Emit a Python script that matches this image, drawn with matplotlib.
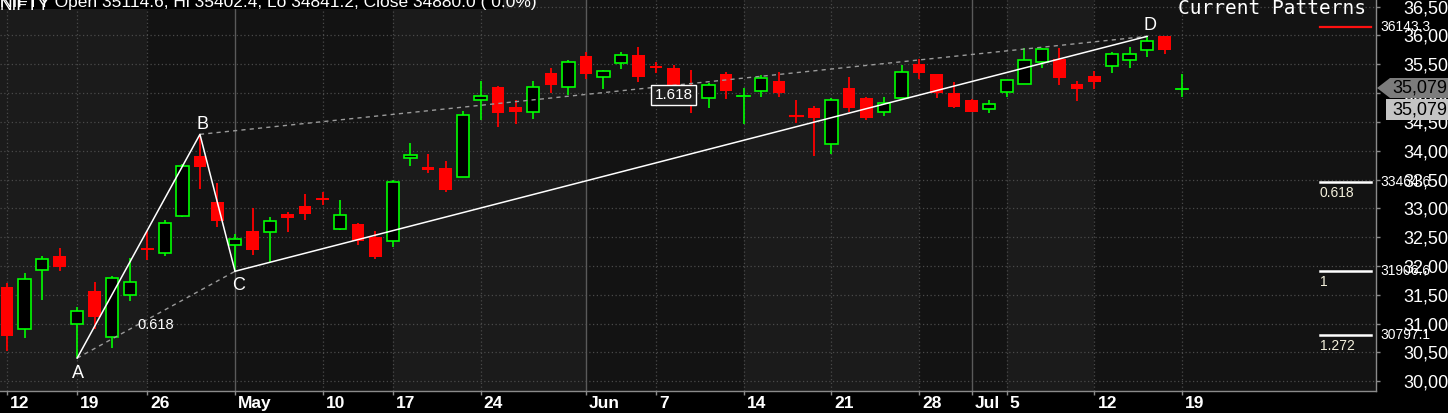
import matplotlib
matplotlib.use("Agg")
import matplotlib.pyplot as plt
import matplotlib.transforms as mtransforms
from matplotlib.patches import Rectangle, Polygon

# ---------------- data ----------------
dates = ["2021-04-12", "2021-04-13", "2021-04-15", "2021-04-16",
         "2021-04-19", "2021-04-20", "2021-04-22", "2021-04-23",
         "2021-04-26", "2021-04-27", "2021-04-28", "2021-04-29", "2021-04-30",
         "2021-05-03", "2021-05-04", "2021-05-05", "2021-05-06", "2021-05-07",
         "2021-05-10", "2021-05-11", "2021-05-12", "2021-05-14",
         "2021-05-17", "2021-05-18", "2021-05-19", "2021-05-20", "2021-05-21",
         "2021-05-24", "2021-05-25", "2021-05-26", "2021-05-27", "2021-05-28", "2021-05-31",
         "2021-06-01", "2021-06-02", "2021-06-03", "2021-06-04",
         "2021-06-07", "2021-06-08", "2021-06-09", "2021-06-10", "2021-06-11",
         "2021-06-14", "2021-06-15", "2021-06-16", "2021-06-17", "2021-06-18",
         "2021-06-21", "2021-06-22", "2021-06-23", "2021-06-24", "2021-06-25",
         "2021-06-28", "2021-06-29", "2021-06-30", "2021-07-01", "2021-07-02",
         "2021-07-05", "2021-07-06", "2021-07-07", "2021-07-08", "2021-07-09",
         "2021-07-12", "2021-07-13", "2021-07-14", "2021-07-15", "2021-07-16",
         "2021-07-19"]

opens = [31632, 30902, 31921, 32176, 30989, 31568, 30758, 31493,
         32315, 32222, 32859, 33913, 33114,
         32361, 32610, 32587, 32906, 33045,
         33184, 32636, 32729, 32497,
         32428, 33881, 33719, 33701, 33551,
         34877, 35103, 34755, 34668, 35352, 35103,
         35647, 35276, 35531, 35664,
         35473, 35440, 35123, 34910, 35332,
         34940, 35042, 35210, 34630, 34736,
         34111, 35083, 34910, 34677, 34920,
         35505, 35332, 34996, 34880, 34730,
         35014, 35166, 35546, 35597, 35166,
         35293, 35477, 35580, 35753, 35983,
         35070]
highs = [31700, 31875, 32176, 32315, 31285, 31725, 31829, 32141,
         32599, 32801, 33774, 34284, 33438,
         32547, 33004, 32848, 32940, 33253,
         33288, 33145, 32740, 32601,
         33493, 34130, 33944, 33823, 34686,
         35213, 35126, 34883, 35213, 35438, 35577,
         35716, 35404, 35716, 35809,
         35548, 35480, 35401, 35170, 35372,
         35096, 35314, 35361, 34880, 34776,
         34910, 35285, 34930, 34937, 35488,
         35587, 35340, 35198, 34890, 34880,
         35227, 35787, 35780, 35787, 35206,
         35379, 35712, 35799, 35985.1, 35990,
         35327]
lows = [30530, 30740, 31412, 31916, 30399, 30902, 30567, 31389,
        32095, 32164, 32850, 33334, 32668,
        31906.6, 32194, 32072, 32581, 32790,
        33056, 32630, 32364, 32126,
        32335, 33742, 33620, 33290, 33545,
        34535, 34419, 34466, 34547, 34998, 34969,
        35247, 35079, 35427, 35201,
        35346, 34990, 34660, 34746, 34897,
        34471, 34937, 34937, 34476, 33910,
        33943, 34677, 34533, 34608, 34915,
        35240, 34920, 34747, 34670, 34649,
        34937, 35160, 35437, 35149, 34867,
        35063, 35350, 35437, 35626, 35684,
        34925]
closes = [30775, 31771, 32118, 31974, 31215, 31105, 31788, 31719,
          32269, 32744, 33739, 33710, 32772,
          32466, 32269, 32778, 32825, 32894,
          33137, 32879, 32439, 32161,
          33452, 33921, 33672, 33325, 34616,
          34946, 34663, 34680, 35103, 35149, 35537,
          35340, 35380, 35658, 35282,
          35444, 35060, 34793, 35141, 35042,
          34955, 35257, 35007, 34610, 34563,
          34880, 34747, 34573, 34823, 35361,
          35354, 35007, 34764, 34677, 34806,
          35227, 35580, 35770, 35270, 35063,
          35195, 35672, 35672, 35908, 35753,
          35079]

tick_dates = ["2021-04-12", "2021-04-19", "2021-04-26", "2021-05-03", "2021-05-10",
              "2021-05-17", "2021-05-24", "2021-06-01", "2021-06-07", "2021-06-14",
              "2021-06-21", "2021-06-28", "2021-07-01", "2021-07-05", "2021-07-12",
              "2021-07-19"]
tick_labels = ["12", "19", "26", "May", "10", "17", "24", "Jun", "7", "14",
               "21", "28", "Jul", "5", "12", "19"]
month_starts = ["2021-05-03", "2021-06-01", "2021-07-01"]
# lighter background bands (start date, end date)
light_bands = [("2021-04-12", "2021-04-26"), ("2021-05-17", "2021-06-01"),
               ("2021-06-14", "2021-06-28"), ("2021-07-05", "2021-07-12")]

pattern_names = ["A", "B", "C", "D"]
pattern_dates = ["2021-04-19", "2021-04-29", "2021-05-03", "2021-07-15"]
pattern_prices = [30399.0, 34284.0, 31906.6, 35985.1]
ratio_ac = "0.618"
ratio_bd = "1.618"

level_ratios = ["0.618", "1", "1.272"]
level_prices = [33464.6, 31906.6, 30797.1]
target_price = 36143.3
last_price = 35079
y_ticks = list(range(30000, 36501, 500))

header = "NIFTY Open 35114.6, Hi 35402.4, Lo 34841.2, Close 34880.0 ( 0.0%)"

# ---------------- layout helpers ----------------
W, H = 1448, 413
fig = plt.figure(figsize=(W / 100, H / 100), dpi=100)
fig.patch.set_facecolor("black")


def fx(p):
    return p / W


def fy(p):
    return 1 - p / H


def idx(d):
    return dates.index(d)


AX_R, AX_B = 1375.7, 390.7
ax = fig.add_axes([0, fy(AX_B), fx(AX_R), AX_B / H])
ax.set_facecolor("#131313")
STEP = 17.54
ax.set_xlim(-7 / STEP, (AX_R - 7) / STEP)
ax.set_ylim(29833.4, 36616.3)

# background bands
tick_idx = [idx(d) for d in tick_dates]
x_lo = ax.get_xlim()[0]
for a, b in light_bands:
    ia = idx(a) if a != dates[0] else x_lo
    ax.axvspan(ia, idx(b), color="#1b1b1b", lw=0, zorder=0)

# grid
for v in y_ticks:
    ax.axhline(v, color="#4a4a4a", lw=0.9, ls=(0, (1, 2)), zorder=1)
for d in tick_dates:
    if d in month_starts:
        ax.axvline(idx(d), color="#5a5a5a", lw=1.0, zorder=1)
    else:
        ax.axvline(idx(d), color="#4a4a4a", lw=0.9, ls=(0, (1, 2)), zorder=1)

# candles
BW = 0.71
GREEN, RED = "#00ff00", "#ff0000"
for i in range(len(dates)):
    o, h, l, c = opens[i], highs[i], lows[i], closes[i]
    top, bot = max(o, c), min(o, c)
    if c >= o:
        ax.plot([i, i], [top, h], color=GREEN, lw=1.2, zorder=3, solid_capstyle="butt")
        ax.plot([i, i], [l, bot], color=GREEN, lw=1.2, zorder=3, solid_capstyle="butt")
        if top - bot < 25:
            ax.plot([i - BW / 2, i + BW / 2], [c, c], color=GREEN, lw=1.3, zorder=4)
        else:
            ax.add_patch(Rectangle((i - BW / 2, bot), BW, top - bot, facecolor="black",
                                   edgecolor=GREEN, lw=1.2, zorder=4))
    else:
        ax.plot([i, i], [l, h], color=RED, lw=1.3, zorder=3, solid_capstyle="butt")
        if top - bot < 25:
            ax.plot([i - BW / 2, i + BW / 2], [c, c], color=RED, lw=1.5, zorder=4)
        else:
            ax.add_patch(Rectangle((i - BW / 2, bot), BW, top - bot, facecolor=RED,
                                   edgecolor="none", zorder=4))

# harmonic pattern
px_ = [idx(d) for d in pattern_dates]
py_ = pattern_prices
ax.plot(px_[:3], py_[:3], color="white", lw=1.1, zorder=6)
ax.plot(px_[2:], py_[2:], color="white", lw=1.1, zorder=6)
ax.plot([px_[0], px_[2]], [py_[0], py_[2]], color="#9a9a9a", lw=1.0, ls=(0, (3, 3)), zorder=5)
ax.plot([px_[1], px_[3]], [py_[1], py_[3]], color="#9a9a9a", lw=1.0, ls=(0, (3, 3)), zorder=5)

name_off = [(1, -15), (3, 10), (3.5, -14), (2.5, 11)]
for n, xx, yy, off in zip(pattern_names, px_, py_, name_off):
    ax.annotate(n, (xx, yy), xytext=off, textcoords="offset pixels", ha="center",
                va="center", color="white", fontsize=13, family="Liberation Sans", zorder=8)

ax.annotate(ratio_ac, ((px_[0] + px_[2]) / 2, (py_[0] + py_[2]) / 2), xytext=(0, -10),
            textcoords="offset pixels", ha="center", va="center", color="white",
            fontsize=10.5, family="Liberation Sans", zorder=8)
ax.annotate(ratio_bd, ((px_[1] + px_[3]) / 2, (py_[1] + py_[3]) / 2), xytext=(0, -10),
            textcoords="offset pixels", ha="center", va="center", color="white",
            fontsize=11, family="Liberation Sans", zorder=8,
            bbox=dict(boxstyle="square,pad=0.2", fc="#202020", ec="white", lw=1.0))

# projection levels on the right
lx0, lx1 = (1320 - 7) / STEP, (1370.7 - 7) / STEP
ax.plot([lx0, lx1], [target_price] * 2, color="#ff1010", lw=1.6, zorder=6)
for r, v in zip(level_ratios, level_prices):
    ax.plot([lx0, lx1], [v, v], color="white", lw=1.8, zorder=6)
    ax.annotate(r, (lx0, v), xytext=(0, -11), textcoords="offset pixels", ha="left",
                va="center", color="#f4f0dc", fontsize=10, family="Liberation Sans", zorder=8)

# axes styling
for s in ["left", "top"]:
    ax.spines[s].set_visible(False)
for s in ["right", "bottom"]:
    ax.spines[s].set_color("#8a8a8a")
    ax.spines[s].set_linewidth(1.0)

ax.yaxis.tick_right()
ax.set_yticks(y_ticks)
ax.set_yticklabels([f"{v:,}" for v in y_ticks])
ax.tick_params(axis="y", colors="#8a8a8a", labelcolor="white", length=3, width=1,
               pad=17, labelsize=13)
for t in ax.get_yticklabels():
    t.set_family("Liberation Sans")

ax.set_xticks(tick_idx)
ax.set_xticklabels(tick_labels)
ax.tick_params(axis="x", colors="#8a8a8a", labelcolor="white", length=3, width=1,
               pad=1, labelsize=12.5)
shift = mtransforms.ScaledTranslation(3 / 100, 0, fig.dpi_scale_trans)
for t in ax.get_xticklabels():
    t.set_family("Liberation Sans")
    t.set_fontweight("bold")
    t.set_ha("left")
    t.set_transform(t.get_transform() + shift)

# level values in the price axis
blend = mtransforms.blended_transform_factory(fig.transFigure, ax.transData)
for v in [target_price] + level_prices:
    fig.text(fx(1380.7), v, f"{v:.1f}", transform=blend, ha="left", va="center",
             color="white", fontsize=10, family="Liberation Sans", zorder=5)

# last price tags
tag = Polygon([(fx(1377), fy(88)), (fx(1390), fy(78)), (fx(W), fy(78)),
               (fx(W), fy(98)), (fx(1390), fy(98))], closed=True,
              transform=fig.transFigure, facecolor="#7c7c7c", edgecolor="none", zorder=6)
fig.patches.append(tag)
box = Rectangle((fx(1386), fy(120)), fx(W) - fx(1386), (120 - 99) / H,
                transform=fig.transFigure, facecolor="#c4c4c4", edgecolor="none", zorder=6)
fig.patches.append(box)
fig.text(fx(1392.5), fy(88), f"{last_price:,}", ha="left", va="center", color="black",
         fontsize=13, family="Liberation Sans", zorder=7)
fig.text(fx(1392.5), fy(110), f"{last_price:,}", ha="left", va="center", color="black",
         fontsize=13, family="Liberation Sans", zorder=7)

# titles
fig.text(fx(1178), fy(8), "Current Patterns", ha="left", va="center", color="white",
         fontsize=14, family="DejaVu Sans Mono", zorder=7)
hdr = Rectangle((0, fy(8.5)), fx(503), 8.5 / H, transform=fig.transFigure,
                facecolor="black", edgecolor="none", zorder=6)
fig.patches.append(hdr)
fig.text(0, fy(6.5), header, ha="left", va="baseline", color="white", fontsize=12.5,
         family="Liberation Sans", zorder=7)
fig.text(0, fy(9.5), "NIFTY", ha="left", va="baseline", color="white", fontsize=12.5,
         family="Liberation Sans", zorder=7)

fig.savefig("out.png", dpi=100, facecolor="black")
